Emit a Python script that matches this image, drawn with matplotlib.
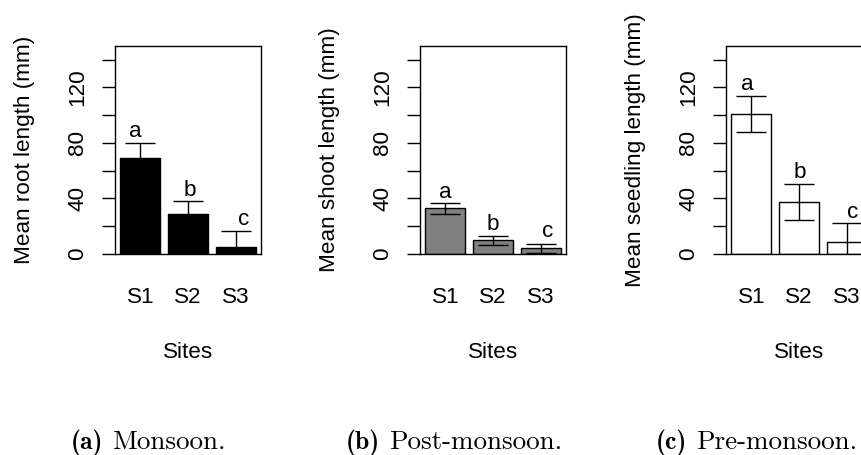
import matplotlib
matplotlib.use("Agg")
import matplotlib.pyplot as plt
import numpy as np

# ---- data ----
sites = ["S1", "S2", "S3"]

root_mean = [69.2, 29.0, 5.3]
root_err = [10.8, 9.3, 11.0]
root_letters = ["a", "b", "c"]
root_letter_y = [84.3, 41.9, 20.8]
root_letter_x = [0.57, 1.94, 3.31]

shoot_mean = [32.8, 10.0, 4.1]
shoot_err = [3.7, 3.3, 3.1]
shoot_letters = ["a", "b", "c"]
shoot_letter_y = [40.0, 17.2, 12.0]
shoot_letter_x = [0.71, 1.90, 3.28]

seed_mean = [101.0, 37.4, 8.4]
seed_err = [13.0, 13.0, 13.9]
seed_letters = ["a", "b", "c"]
seed_letter_y = [118.3, 54.4, 25.6]
seed_letter_x = [0.59, 1.93, 3.25]

ylabels = ["Mean root length (mm)", "Mean shoot length (mm)", "Mean seedling length (mm)"]
bar_colors = ["#000000", "#808080", "#ffffff"]
yticks = [0, 20, 40, 60, 80, 100, 120, 140]
ytick_labels = ["0", "", "40", "", "80", "", "120", ""]
caption_tags = ["(a)", "(b)", "(c)"]
caption_texts = ["Monsoon.", "Post-monsoon.", "Pre-monsoon."]

W, H = 862, 455
fig = plt.figure(figsize=(W / 100, H / 100), dpi=100)

FONT = "Liberation Sans"
FS = 16.2

panels = [
    (root_mean, root_err, root_letters, root_letter_x, root_letter_y),
    (shoot_mean, shoot_err, shoot_letters, shoot_letter_x, shoot_letter_y),
    (seed_mean, seed_err, seed_letters, seed_letter_x, seed_letter_y),
]
lefts = [115, 420, 726]
ax_w = 146
top_px, bot_px = 45.7, 254.0

centers = np.array([0.7, 1.9, 3.1])
for i, (mean, err, letters, lx, ly) in enumerate(panels):
    ax = fig.add_axes([lefts[i] / W, (H - bot_px) / H, ax_w / W, (bot_px - top_px) / H])
    ax.bar(centers, mean, width=1.0, color=bar_colors[i], edgecolor="#000000",
           linewidth=1.0, zorder=2)
    ax.errorbar(centers, mean, yerr=err, fmt="none", ecolor="#000000",
                elinewidth=1.0, capsize=10.8, capthick=1.0, zorder=3)
    for x, y, t in zip(lx, ly, letters):
        ax.text(x, y, t, ha="center", va="baseline", fontsize=FS, family=FONT, zorder=4)
    ax.set_xlim(0.064, 3.736)
    ax.set_ylim(0, 150)
    ax.set_yticks(yticks)
    ax.set_yticklabels(ytick_labels, family=FONT, fontsize=FS, rotation=90, va="center")
    ax.tick_params(axis="y", length=9.4, width=1.0, pad=10, direction="out")
    ax.set_xticks(centers)
    ax.set_xticklabels(sites, family=FONT, fontsize=FS)
    ax.tick_params(axis="x", length=0, pad=24)
    ax.set_xlabel("Sites", family=FONT, fontsize=FS, labelpad=24)
    ax.set_ylabel(ylabels[i], family=FONT, fontsize=FS, labelpad=23)
    for s in ax.spines.values():
        s.set_linewidth(1.0)
        s.set_color("#000000")
    ax.patch.set_alpha(0)

# captions
cap_x = [71, 346, 656]
cap_base = (H - 449) / H
for i in range(3):
    t1 = fig.text(cap_x[i] / W, cap_base, caption_tags[i], family="cmb10",
                  fontsize=18.5, ha="left", va="baseline")
    fig.canvas.draw()
    bb = t1.get_window_extent()
    fig.text((bb.x1 + 9) / W, cap_base, caption_texts[i], family="cmr10",
             fontsize=19.5, ha="left", va="baseline")

fig.savefig("out.png", dpi=100)
